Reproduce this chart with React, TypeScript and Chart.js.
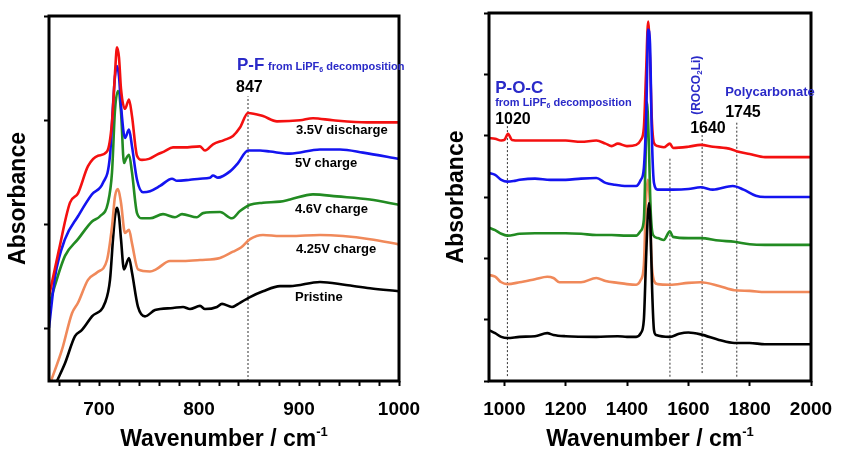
import React, { useEffect, useRef } from "react";
import { Chart, registerables } from "chart.js";

Chart.register(...registerables);

const FONT = '"Liberation Sans", Arial, Helvetica, sans-serif';
const BLUE_TEXT = "#2a2ac8";
const RED = "#f41010";
const BLUE = "#1414f0";
const GREEN = "#228b22";
const ORANGE = "#f0895a";
const BLACK = "#000000";

// ---------- Left panel (650-1000 cm-1) ----------
const leftRedX = [650, 660, 671, 679, 689, 699, 708, 713, 716, 718, 720, 722, 726, 730, 733, 738, 743, 750, 758, 765, 774, 785, 801, 806, 814, 825, 834, 841, 849, 864, 878, 901, 914, 934, 968, 1000];
const leftRedY = [0.31, 0.76, 1.21, 1.30, 1.56, 1.66, 1.70, 1.98, 2.45, 2.70, 2.60, 2.30, 2.11, 2.20, 2.04, 1.66, 1.62, 1.63, 1.67, 1.70, 1.74, 1.74, 1.75, 1.71, 1.77, 1.81, 1.85, 1.93, 2.07, 2.04, 1.99, 2.00, 2.02, 2.00, 1.98, 1.98];

const leftBlueX = [650, 656, 666, 679, 693, 704, 711, 714, 716, 718, 720, 722, 726, 730, 733, 738, 744, 751, 761, 773, 778, 791, 801, 811, 814, 819, 831, 839, 849, 861, 871, 891, 921, 941, 964, 1000];
const leftBlueY = [0.01, 0.50, 0.86, 1.08, 1.29, 1.40, 1.66, 2.14, 2.42, 2.52, 2.42, 2.14, 1.83, 1.91, 1.75, 1.43, 1.31, 1.32, 1.37, 1.44, 1.42, 1.43, 1.44, 1.45, 1.47, 1.45, 1.51, 1.59, 1.71, 1.71, 1.70, 1.68, 1.72, 1.72, 1.69, 1.63];

const leftGreenX = [650, 666, 679, 693, 701, 709, 713, 716, 719, 722, 725, 727, 730, 733, 738, 743, 751, 764, 776, 783, 798, 804, 821, 833, 841, 851, 864, 881, 891, 914, 938, 971, 1000];
const leftGreenY = [0.23, 0.70, 0.86, 1.03, 1.08, 1.21, 1.50, 2.10, 2.28, 2.08, 1.59, 1.63, 1.67, 1.50, 1.11, 1.06, 1.06, 1.10, 1.07, 1.10, 1.07, 1.11, 1.12, 1.06, 1.13, 1.19, 1.21, 1.22, 1.24, 1.29, 1.27, 1.24, 1.19];

const leftOrangeX = [652, 663, 673, 679, 689, 698, 708, 713, 716, 719, 722, 726, 730, 733, 739, 751, 757, 771, 784, 801, 821, 834, 842, 851, 864, 881, 891, 921, 944, 971, 1000];
const leftOrangeY = [-0.5, -0.20, 0.15, 0.25, 0.47, 0.54, 0.66, 0.98, 1.27, 1.34, 1.21, 0.92, 0.95, 0.82, 0.57, 0.55, 0.57, 0.65, 0.65, 0.66, 0.68, 0.74, 0.78, 0.86, 0.90, 0.89, 0.89, 0.90, 0.89, 0.86, 0.81];

const leftBlackX = [658, 666, 676, 683, 693, 706, 711, 714, 716, 718, 720, 722, 725, 730, 733, 739, 746, 756, 774, 784, 791, 801, 806, 818, 823, 833, 841, 850, 864, 881, 891, 921, 947, 971, 1000];
const leftBlackY = [-0.5, -0.33, -0.07, -0.01, 0.12, 0.25, 0.47, 0.86, 1.08, 1.16, 1.08, 0.86, 0.57, 0.68, 0.54, 0.21, 0.12, 0.18, 0.20, 0.21, 0.19, 0.22, 0.19, 0.21, 0.24, 0.21, 0.25, 0.30, 0.36, 0.41, 0.41, 0.45, 0.42, 0.39, 0.36];

const leftMarkX = [849];
const leftMarkTop = [2.23];
const leftMarkBottom = [-0.5];

// ---------- Right panel (950-2000 cm-1) ----------
const rightRedX = [950, 970, 990, 1000, 1012, 1025, 1050, 1100, 1150, 1200, 1250, 1300, 1330, 1350, 1370, 1400, 1430, 1445, 1455, 1462, 1469, 1475, 1481, 1488, 1500, 1520, 1540, 1550, 1600, 1640, 1680, 1740, 1760, 1800, 1850, 1900, 1950, 2000];
const rightRedY = [3.96, 3.95, 3.92, 3.93, 4.03, 3.93, 3.92, 3.92, 3.92, 3.92, 3.90, 3.92, 3.87, 3.83, 3.87, 3.83, 3.85, 3.93, 4.13, 5.00, 5.86, 5.24, 4.26, 3.88, 3.83, 3.81, 3.87, 3.80, 3.82, 3.85, 3.82, 3.78, 3.74, 3.70, 3.65, 3.65, 3.65, 3.65];

const rightBlueX = [950, 970, 990, 1010, 1030, 1050, 1100, 1150, 1200, 1250, 1300, 1330, 1360, 1400, 1430, 1445, 1455, 1463, 1469, 1475, 1481, 1488, 1500, 1550, 1600, 1640, 1680, 1745, 1780, 1820, 1850, 1900, 2000];
const rightBlueY = [3.39, 3.36, 3.28, 3.25, 3.26, 3.28, 3.30, 3.28, 3.28, 3.30, 3.31, 3.23, 3.20, 3.18, 3.18, 3.28, 3.47, 4.40, 5.73, 5.50, 4.00, 3.23, 3.12, 3.12, 3.13, 3.16, 3.12, 3.18, 3.12, 3.02, 3.00, 3.00, 3.00];

const rightGreenX = [950, 970, 990, 1010, 1050, 1100, 1150, 1200, 1250, 1300, 1350, 1400, 1430, 1445, 1455, 1460, 1465, 1471, 1477, 1485, 1500, 1520, 1540, 1550, 1600, 1640, 1700, 1750, 1800, 1850, 1900, 2000];
const rightGreenY = [2.50, 2.46, 2.40, 2.37, 2.40, 2.41, 2.41, 2.41, 2.40, 2.38, 2.38, 2.37, 2.37, 2.45, 2.63, 3.50, 4.55, 3.90, 2.80, 2.38, 2.33, 2.30, 2.44, 2.35, 2.33, 2.33, 2.29, 2.27, 2.23, 2.22, 2.22, 2.22];

const rightOrangeX = [950, 970, 990, 1010, 1050, 1100, 1140, 1160, 1180, 1250, 1300, 1330, 1370, 1400, 1430, 1445, 1455, 1462, 1468, 1474, 1480, 1487, 1500, 1540, 1600, 1640, 1700, 1750, 1800, 1850, 1900, 2000];
const rightOrangeY = [1.73, 1.70, 1.61, 1.58, 1.61, 1.66, 1.70, 1.68, 1.61, 1.61, 1.68, 1.63, 1.60, 1.58, 1.57, 1.65, 1.89, 2.95, 3.28, 2.95, 1.97, 1.65, 1.58, 1.57, 1.60, 1.61, 1.55, 1.48, 1.47, 1.45, 1.45, 1.45];

const rightBlackX = [950, 970, 990, 1010, 1050, 1100, 1140, 1160, 1200, 1300, 1370, 1400, 1430, 1445, 1455, 1462, 1468, 1472, 1476, 1482, 1488, 1495, 1540, 1570, 1600, 1640, 1700, 1750, 1800, 1850, 2000];
const rightBlackY = [0.83, 0.78, 0.72, 0.70, 0.72, 0.73, 0.78, 0.75, 0.73, 0.72, 0.73, 0.72, 0.72, 0.78, 1.00, 1.97, 2.71, 2.90, 2.63, 1.48, 0.83, 0.75, 0.72, 0.77, 0.79, 0.76, 0.67, 0.62, 0.62, 0.60, 0.60];

const rightMarkX = [1010, 1540, 1645, 1758];
const rightMarkTop = [4.18, 3.65, 4.06, 4.22];
const rightMarkBottom = [0.08, 0.07, 0.13, 0.07];

// ---------- Text ----------
type Part = { t: string; s: number; dy?: number };
type Note = { x: number; y: number; parts: Part[]; color: string; rotate?: boolean };

const leftNotes: Note[] = [
  { x: 838, y: 2.48, color: BLUE_TEXT, parts: [{ t: "P-F", s: 17 }] },
  { x: 869, y: 2.48, color: BLUE_TEXT, parts: [{ t: "from LiPF", s: 11 }, { t: "6", s: 7, dy: 2 }, { t: " decomposition", s: 11 }] },
  { x: 837, y: 2.27, color: BLACK, parts: [{ t: "847", s: 16 }] },
  { x: 897, y: 1.87, color: BLACK, parts: [{ t: "3.5V discharge", s: 13 }] },
  { x: 896, y: 1.55, color: BLACK, parts: [{ t: "5V charge", s: 13 }] },
  { x: 896, y: 1.11, color: BLACK, parts: [{ t: "4.6V charge", s: 13 }] },
  { x: 897, y: 0.73, color: BLACK, parts: [{ t: "4.25V charge", s: 13 }] },
  { x: 896, y: 0.27, color: BLACK, parts: [{ t: "Pristine", s: 13 }] },
];

const rightNotes: Note[] = [
  { x: 970, y: 4.69, color: BLUE_TEXT, parts: [{ t: "P-O-C", s: 17 }] },
  { x: 970, y: 4.49, color: BLUE_TEXT, parts: [{ t: "from LiPF", s: 11 }, { t: "6", s: 7, dy: 2 }, { t: " decomposition", s: 11 }] },
  { x: 970, y: 4.19, color: BLACK, parts: [{ t: "1020", s: 16 }] },
  { x: 1637, y: 4.34, color: BLUE_TEXT, rotate: true, parts: [{ t: "(ROCO", s: 12 }, { t: "2", s: 8, dy: 2 }, { t: "Li)", s: 12 }] },
  { x: 1606, y: 4.04, color: BLACK, parts: [{ t: "1640", s: 16 }] },
  { x: 1720, y: 4.64, color: BLUE_TEXT, parts: [{ t: "Polycarbonate", s: 13 }] },
  { x: 1720, y: 4.31, color: BLACK, parts: [{ t: "1745", s: 16 }] },
];

function zip(xs: number[], ys: number[]) {
  const n = Math.min(xs.length, ys.length);
  const out: { x: number; y: number }[] = [];
  for (let i = 0; i < n; i++) out.push({ x: xs[i], y: ys[i] });
  return out;
}

function drawParts(ctx: CanvasRenderingContext2D, parts: Part[], x: number, y: number) {
  let cx = x;
  for (const p of parts) {
    ctx.font = `bold ${p.s}px ${FONT}`;
    ctx.fillText(p.t, cx, y + (p.dy || 0));
    cx += ctx.measureText(p.t).width;
  }
}
function partsWidth(ctx: CanvasRenderingContext2D, parts: Part[]) {
  let w = 0;
  for (const p of parts) {
    ctx.font = `bold ${p.s}px ${FONT}`;
    w += ctx.measureText(p.t).width;
  }
  return w;
}

function makeDecor(notes: Note[], yTitleX: number) {
  return {
    id: "decor",
    afterDraw(chart: any) {
      const { ctx, chartArea: a, scales } = chart;
      ctx.save();
      ctx.strokeStyle = "#000";
      ctx.lineWidth = 3;
      ctx.strokeRect(a.left, a.top, a.right - a.left, a.bottom - a.top);
      ctx.textBaseline = "alphabetic";
      ctx.textAlign = "left";
      for (const n of notes) {
        const px = scales.x.getPixelForValue(n.x);
        const py = scales.y.getPixelForValue(n.y);
        ctx.fillStyle = n.color;
        if (n.rotate) {
          ctx.save();
          ctx.translate(px, py);
          ctx.rotate(-Math.PI / 2);
          drawParts(ctx, n.parts, 0, 0);
          ctx.restore();
        } else {
          drawParts(ctx, n.parts, px, py);
        }
      }
      const title: Part[] = [{ t: "Wavenumber / cm", s: 23 }, { t: "-1", s: 13, dy: -10 }];
      ctx.fillStyle = "#000";
      const w = partsWidth(ctx, title);
      drawParts(ctx, title, (a.left + a.right) / 2 - w / 2, 446);
      ctx.save();
      ctx.translate(yTitleX, (a.top + a.bottom) / 2);
      ctx.rotate(-Math.PI / 2);
      ctx.font = `bold 23px ${FONT}`;
      ctx.textAlign = "center";
      ctx.fillText("Absorbance", 0, 0);
      ctx.restore();
      ctx.restore();
    },
  };
}

function series(xs: number[], ys: number[], color: string, order: number) {
  return {
    data: zip(xs, ys),
    borderColor: color,
    backgroundColor: color,
    borderWidth: 2.6,
    pointRadius: 0,
    fill: false,
    cubicInterpolationMode: "monotone" as const,
    borderJoinStyle: "round" as const,
    order,
  };
}

function markers(xs: number[], tops: number[], bottoms: number[]) {
  return xs.map((x, i) => ({
    data: [{ x, y: bottoms[i] }, { x, y: tops[i] }],
    borderColor: "#333",
    borderWidth: 1,
    borderDash: [2, 2],
    pointRadius: 0,
    fill: false,
    order: 10,
  }));
}

const gridOpts = {
  drawOnChartArea: false,
  drawTicks: true,
  tickLength: 5,
  tickWidth: 2,
  tickColor: "#000",
  color: "#000",
};

function buildConfig(opts: {
  datasets: any[];
  xmin: number; xmax: number; xstep: number; xlabelEvery: number;
  ymin: number; ymax: number;
  padLeft: number; padRight: number; padTop: number; yWidth: number;
  notes: Note[]; yTitleX: number;
}) {
  return {
    type: "line" as const,
    data: { datasets: opts.datasets },
    options: {
      animation: false as const,
      responsive: false,
      maintainAspectRatio: false,
      events: [] as any[],
      layout: { padding: { left: opts.padLeft, right: opts.padRight, top: opts.padTop, bottom: 0 } },
      plugins: { legend: { display: false }, tooltip: { enabled: false }, title: { display: false } },
      scales: {
        x: {
          type: "linear" as const,
          min: opts.xmin,
          max: opts.xmax,
          border: { display: false },
          grid: gridOpts,
          afterFit: (s: any) => { s.height = 78; },
          ticks: {
            stepSize: opts.xstep,
            autoSkip: false,
            includeBounds: false,
            maxRotation: 0,
            padding: 12,
            color: "#000",
            font: { family: FONT, size: 19, weight: "bold" as const },
            callback: (v: any) => (Math.abs(v % opts.xlabelEvery) < 1e-6 ? String(v) : ""),
          },
        },
        y: {
          type: "linear" as const,
          min: opts.ymin,
          max: opts.ymax,
          border: { display: false },
          grid: gridOpts,
          afterFit: (s: any) => { s.width = opts.yWidth; },
          ticks: { stepSize: 1, includeBounds: false, display: false },
        },
      },
    },
    plugins: [makeDecor(opts.notes, opts.yTitleX)],
  };
}

export default function App() {
  const leftRef = useRef<HTMLCanvasElement | null>(null);
  const rightRef = useRef<HTMLCanvasElement | null>(null);

  useEffect(() => {
    const charts: Chart[] = [];
    if (leftRef.current) {
      const ds = [
        series(leftBlueX, leftBlueY, BLUE, 1),
        series(leftRedX, leftRedY, RED, 0),
        series(leftGreenX, leftGreenY, GREEN, 2),
        series(leftOrangeX, leftOrangeY, ORANGE, 3),
        series(leftBlackX, leftBlackY, BLACK, 4),
        ...markers(leftMarkX, leftMarkTop, leftMarkBottom),
      ];
      charts.push(
        new Chart(leftRef.current, buildConfig({
          datasets: ds, xmin: 650, xmax: 1000, xstep: 20, xlabelEvery: 100,
          ymin: -0.5, ymax: 3.0, padLeft: 0, padRight: 454, padTop: 16, yWidth: 49,
          notes: leftNotes, yTitleX: 25,
        }) as any)
      );
    }
    if (rightRef.current) {
      const ds = [
        series(rightBlueX, rightBlueY, BLUE, 0),
        series(rightRedX, rightRedY, RED, 1),
        series(rightBlackX, rightBlackY, BLACK, 2),
        series(rightGreenX, rightGreenY, GREEN, 3),
        series(rightOrangeX, rightOrangeY, ORANGE, 4),
        ...markers(rightMarkX, rightMarkTop, rightMarkBottom),
      ];
      charts.push(
        new Chart(rightRef.current, buildConfig({
          datasets: ds, xmin: 950, xmax: 2000, xstep: 200, xlabelEvery: 200,
          ymin: 0, ymax: 6, padLeft: 420, padRight: 42, padTop: 13, yWidth: 69,
          notes: rightNotes, yTitleX: 463,
        }) as any)
      );
    }
    return () => charts.forEach((c) => c.destroy());
  }, []);

  const cstyle: React.CSSProperties = { position: "absolute", left: 0, top: 0, width: 853, height: 459 };
  return (
    <div style={{ position: "absolute", left: 0, top: 0, width: 853, height: 459, background: "#fff" }}>
      <canvas ref={leftRef} width={853} height={459} style={cstyle} />
      <canvas ref={rightRef} width={853} height={459} style={cstyle} />
    </div>
  );
}
